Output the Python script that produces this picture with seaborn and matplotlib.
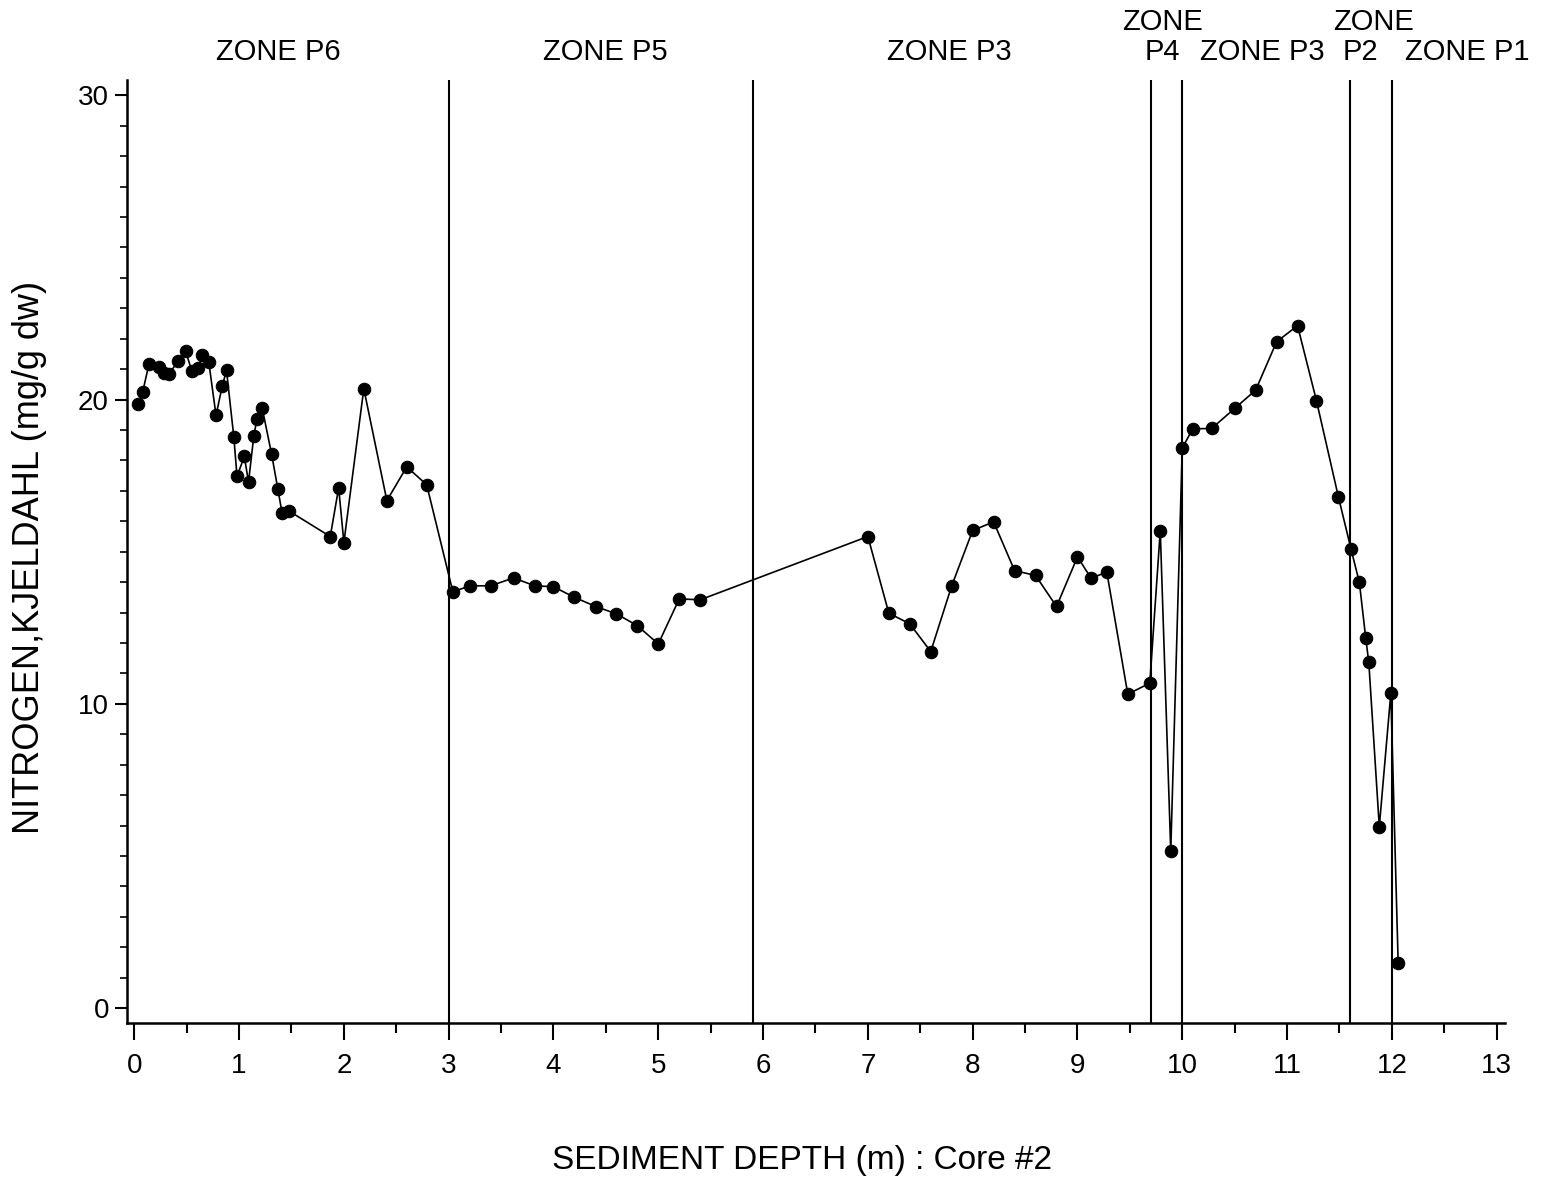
import matplotlib
matplotlib.use("Agg")
import matplotlib.pyplot as plt
import matplotlib.transforms as mtransforms
from matplotlib.ticker import MultipleLocator
import seaborn as sns
import pandas as pd

depth = [0.04, 0.08, 0.14, 0.24, 0.28, 0.33, 0.42, 0.49, 0.55, 0.61,
         0.65, 0.71, 0.78, 0.84, 0.88, 0.95, 0.98, 1.05, 1.09, 1.14,
         1.17, 1.22, 1.31, 1.37, 1.41, 1.48, 1.87, 1.95, 2.0, 2.19,
         2.41, 2.6, 2.79, 3.04, 3.2, 3.4, 3.62, 3.82, 4.0, 4.2,
         4.41, 4.6, 4.8, 5.0, 5.2, 5.4, 7.0, 7.2, 7.4, 7.6,
         7.8, 8.0, 8.2, 8.4, 8.6, 8.8, 9.0, 9.13, 9.28, 9.48,
         9.69, 9.79, 9.89, 10.0, 10.1, 10.28, 10.5, 10.7, 10.9, 11.1,
         11.28, 11.49, 11.61, 11.69, 11.75, 11.78, 11.88, 11.99, 12.06]
nitrogen = [19.84, 20.25, 21.17, 21.08, 20.88, 20.85, 21.26, 21.59, 20.93, 21.05,
            21.45, 21.25, 19.48, 20.46, 20.96, 18.76, 17.48, 18.13, 17.29, 18.79,
            19.36, 19.73, 18.21, 17.06, 16.27, 16.33, 15.5, 17.1, 15.3, 20.36,
            16.68, 17.79, 17.2, 13.68, 13.88, 13.88, 14.14, 13.88, 13.85, 13.5,
            13.19, 12.96, 12.57, 11.97, 13.45, 13.42, 15.5, 12.98, 12.63, 11.72,
            13.88, 15.7, 15.98, 14.38, 14.22, 13.2, 14.83, 14.13, 14.33, 10.32,
            10.68, 15.69, 5.16, 18.41, 19.04, 19.05, 19.71, 20.31, 21.9, 22.43,
            19.97, 16.8, 15.09, 13.99, 12.18, 11.36, 5.96, 10.35, 1.49]

zone_bounds = [3.0, 5.9, 9.7, 10.0, 11.6, 12.0]
zone_lower = ["ZONE P6", "ZONE P5", "ZONE P3", "P4", "ZONE P3", "P2", "ZONE P1"]
zone_lower_x = [1.37, 4.49, 7.78, 9.81, 10.76, 11.70, 12.72]
zone_upper = ["ZONE", "ZONE"]
zone_upper_x = [9.81, 11.83]

x_ticks = list(range(0, 14))
y_ticks = [0, 10, 20, 30]

sns.set_theme(style="ticks")
plt.rcParams['font.family'] = ['Liberation Sans', 'DejaVu Sans']
plt.rcParams['text.color'] = 'black'
plt.rcParams['axes.labelcolor'] = 'black'

fig = plt.figure(figsize=(15.54, 11.78), dpi=100)
ax = fig.add_axes([0.0817, 0.1318, 0.9685 - 0.0817, 0.932 - 0.1318])

df = pd.DataFrame({"depth": depth, "nitrogen": nitrogen})
sns.lineplot(data=df, x="depth", y="nitrogen", ax=ax, color="black",
             marker="o", markersize=9, markeredgecolor="black",
             linewidth=1.2, estimator=None, sort=False)

for b in zone_bounds:
    ax.axvline(b, color="black", linewidth=1.5)

ax.set_xlim(-0.07, 13.08)
ax.set_ylim(-0.48, 30.5)
ax.set_xticks(x_ticks)
ax.set_yticks(y_ticks)
ax.xaxis.set_minor_locator(MultipleLocator(0.5))
ax.yaxis.set_minor_locator(MultipleLocator(1))
ax.tick_params(axis="x", which="major", direction="out", length=12, width=1.5,
               labelsize=20, pad=10, colors="black")
ax.tick_params(axis="x", which="minor", direction="out", length=7, width=1.5,
               colors="black")
ax.tick_params(axis="y", which="major", direction="out", length=9, width=1.5,
               labelsize=20, pad=4, colors="black")
ax.tick_params(axis="y", which="minor", direction="out", length=5, width=1.2,
               colors="black")

for s in ["top", "right"]:
    ax.spines[s].set_visible(False)
for s in ["left", "bottom"]:
    ax.spines[s].set_linewidth(1.8)
    ax.spines[s].set_color("black")

ax.set_xlabel("")
ax.set_ylabel("")
fig.text(802 / 1554, 1 - 1160 / 1178, "SEDIMENT DEPTH (m) : Core #2",
         fontsize=24, ha="center", va="center", color="black")
fig.text(30 / 1554, 1 - 557 / 1178, "NITROGEN,KJELDAHL (mg/g dw)",
         fontsize=26, ha="center", va="center", rotation=90, color="black")

trans = mtransforms.blended_transform_factory(ax.transData, fig.transFigure)
for lab, xv in zip(zone_lower, zone_lower_x):
    ax.text(xv, 1 - 52 / 1178, lab, transform=trans, ha="center", va="center",
            fontsize=21, clip_on=False, color="black")
for lab, xv in zip(zone_upper, zone_upper_x):
    ax.text(xv, 1 - 22 / 1178, lab, transform=trans, ha="center", va="center",
            fontsize=21, clip_on=False, color="black")

fig.savefig("out.png", dpi=100, facecolor="white")
